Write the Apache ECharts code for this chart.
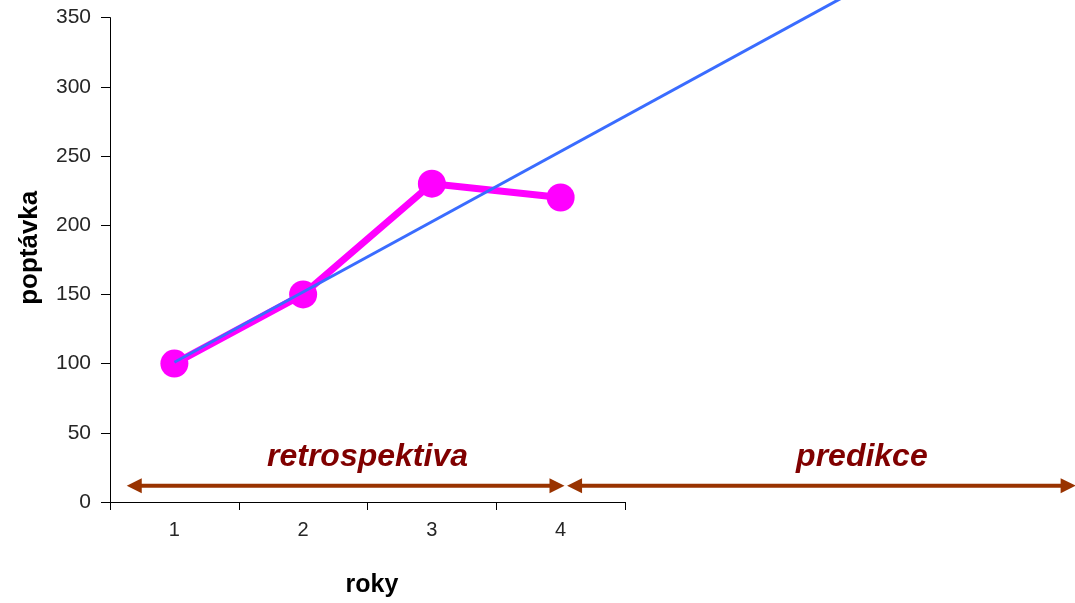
<!DOCTYPE html>
<html>
<head>
<meta charset="utf-8">
<title>poptávka – roky</title>
<script src="https://cdn.jsdelivr.net/npm/echarts@6/dist/echarts.min.js"></script>
<style>
  html, body { margin: 0; padding: 0; background: #ffffff; }
  #chart { width: 1075px; height: 603px; }
</style>
</head>
<body>
<div id="chart"></div>
<script>
// Years (category axis) and observed demand
const years = ['1', '2', '3', '4'];
const demand = [100, 150, 230, 220];

// Value-axis ticks
const yMin = 0;
const yMax = 350;
const yStep = 50;

// Trend line through the observed years, extended into the forecast zone
// [year position, demand]
const trendPoints = [[1, 101], [6.2, 365]];

// Period arrows along the bottom: span in year positions, label and label centre
const periodNames = ['retrospektiva', 'predikce'];
const periodFrom = [0.63, 4.05];
const periodTo = [4.03, 8.0];
const periodLabelAt = [2.5, 6.34];

const FONT = '"Liberation Sans", Arial, Helvetica, sans-serif';
const ARROW = '#993300';
const LABEL_RED = '#800000';

// Pixel scale shared by both grids
const gridLeft = 110, gridTop = 17.6, gridBottom = 101;
const plotHeight = 603 - gridTop - gridBottom;        // px for 0..350
const pxPerUnit = plotHeight / (yMax - yMin);
const catWidth = (625 - gridLeft) / years.length;     // px per year
const overlayXMax = 0.5 + (1075 - gridLeft) / catWidth;
const overlayYMax = (603 - gridBottom) / pxPerUnit;

const chart = echarts.init(document.getElementById('chart'), null, { renderer: 'canvas' });

const periodData = periodNames.map((n, i) => [periodFrom[i], periodTo[i], 11.8, periodLabelAt[i]]);

chart.setOption({
  backgroundColor: '#ffffff',
  animation: false,
  grid: [
    { left: gridLeft, right: 1075 - 625, top: gridTop, bottom: gridBottom, containLabel: false, outerBoundsMode: 'none' },
    { left: gridLeft, right: 0, top: 0, bottom: gridBottom, containLabel: false, outerBoundsMode: 'none' }
  ],
  xAxis: [
    {
      gridIndex: 0,
      type: 'category',
      data: years,
      boundaryGap: true,
      name: 'roky',
      nameLocation: 'middle',
      nameGap: 71,
      nameTextStyle: { fontFamily: FONT, fontSize: 25, fontWeight: 'bold', color: '#000', padding: [0, 0, 0, 9] },
      axisLine: { lineStyle: { color: '#000', width: 1 } },
      axisTick: { show: true, length: 8, alignWithLabel: false, lineStyle: { color: '#000' } },
      axisLabel: { fontFamily: FONT, fontSize: 20, color: '#262626', margin: 18 },
      splitLine: { show: false }
    },
    {
      gridIndex: 1,
      type: 'value',
      min: 0.5,
      max: overlayXMax,
      show: false
    }
  ],
  yAxis: [
    {
      gridIndex: 0,
      type: 'value',
      min: yMin,
      max: yMax,
      interval: yStep,
      name: 'poptávka',
      nameLocation: 'middle',
      nameGap: 67,
      nameTextStyle: { fontFamily: FONT, fontSize: 26, fontWeight: 'bold', color: '#000', padding: [0, 0, 0, 24] },
      axisLine: { show: true, lineStyle: { color: '#000', width: 1 } },
      axisTick: { show: true, length: 9, lineStyle: { color: '#000' } },
      axisLabel: { fontFamily: FONT, fontSize: 21, color: '#262626', margin: 19 },
      splitLine: { show: false }
    },
    {
      gridIndex: 1,
      type: 'value',
      min: 0,
      max: overlayYMax,
      show: false
    }
  ],
  series: [
    {
      name: 'poptávka',
      type: 'line',
      xAxisIndex: 0,
      yAxisIndex: 0,
      data: demand,
      symbol: 'circle',
      symbolSize: 28,
      showSymbol: true,
      itemStyle: { color: '#ff00ff' },
      lineStyle: { color: '#ff00ff', width: 7 },
      z: 3
    },
    {
      name: 'trend',
      type: 'line',
      xAxisIndex: 1,
      yAxisIndex: 1,
      data: trendPoints,
      symbol: 'none',
      clip: true,
      lineStyle: { color: '#3a6cff', width: 3 },
      z: 4
    },
    {
      name: 'období',
      type: 'custom',
      xAxisIndex: 1,
      yAxisIndex: 1,
      clip: false,
      data: periodData,
      z: 5,
      renderItem: function (params, api) {
        const a = api.coord([api.value(0), api.value(2)]);
        const b = api.coord([api.value(1), api.value(2)]);
        const t = api.coord([api.value(3), api.value(2)]);
        const head = 15, half = 7.5, y = a[1];
        const label = periodNames[params.dataIndex];
        return {
          type: 'group',
          children: [
            {
              type: 'line',
              shape: { x1: a[0] + head - 1, y1: y, x2: b[0] - head + 1, y2: y },
              style: { stroke: ARROW, lineWidth: 4 }
            },
            {
              type: 'polygon',
              shape: { points: [[a[0], y], [a[0] + head, y - half], [a[0] + head, y + half]] },
              style: { fill: ARROW }
            },
            {
              type: 'polygon',
              shape: { points: [[b[0], y], [b[0] - head, y - half], [b[0] - head, y + half]] },
              style: { fill: ARROW }
            },
            {
              type: 'text',
              style: {
                x: t[0],
                y: y - 28,
                text: label,
                align: 'center',
                verticalAlign: 'middle',
                fill: LABEL_RED,
                font: 'italic bold 32px ' + FONT
              }
            }
          ]
        };
      }
    }
  ]
});
</script>
</body>
</html>
